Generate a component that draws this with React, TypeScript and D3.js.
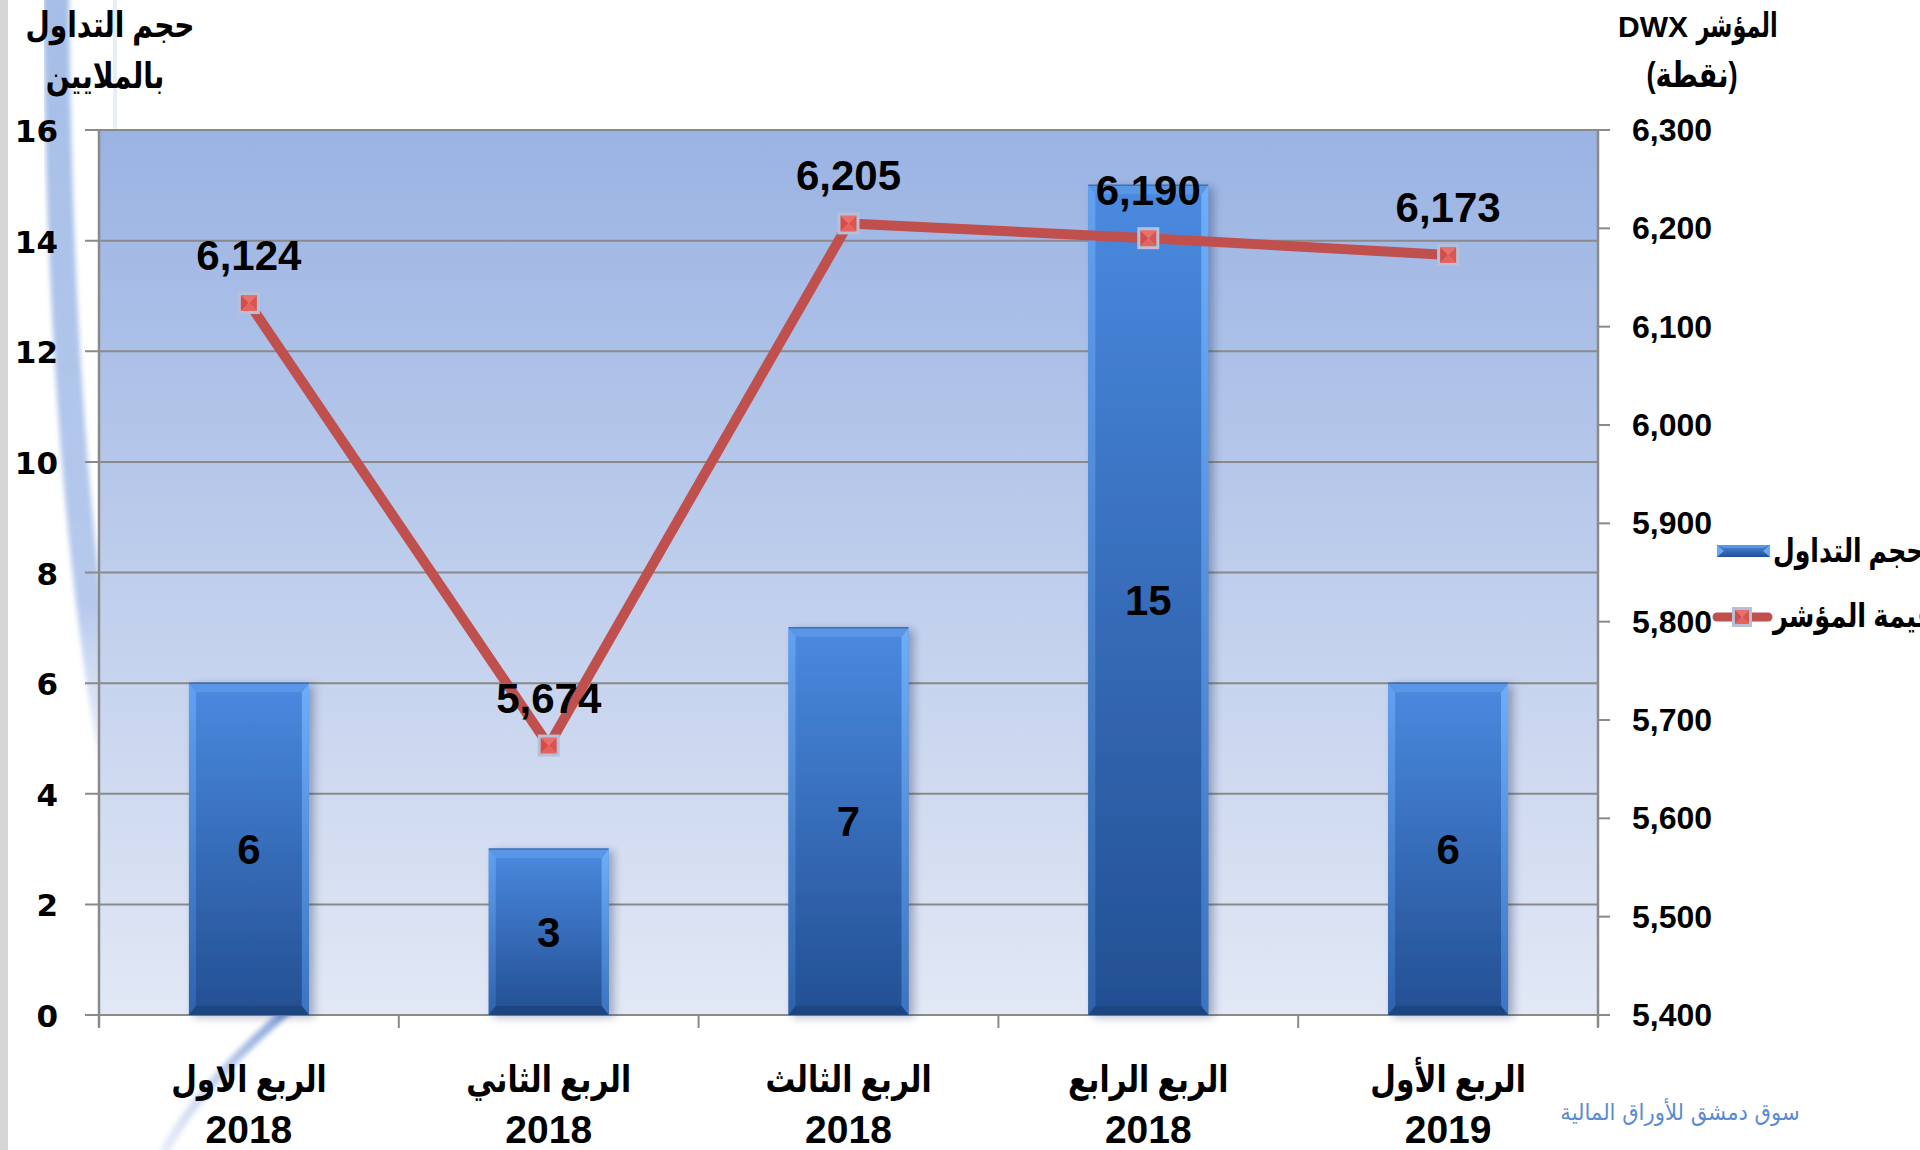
import React from "react";
import * as d3 from "d3";

const categories = ["الربع الاول", "الربع الثاني", "الربع الثالث", "الربع الرابع", "الربع الأول"];
const years = ["2018", "2018", "2018", "2018", "2019"];
const volume = [6, 3, 7, 15, 6];
const indexValues = [6124, 5674, 6205, 6190, 6173];
const leftTicks = [0, 2, 4, 6, 8, 10, 12, 14, 16];
const rightTicks = [5400, 5500, 5600, 5700, 5800, 5900, 6000, 6100, 6200, 6300];
const leftTitle = ["حجم التداول", "بالملايين"];
const rightTitle = ["المؤشر", "DWX", "(نقطة)"];
const legendLabels = ["حجم التداول", "قيمة المؤشر"];
const watermark = "سوق دمشق للأوراق المالية";

const W = 1920;
const H = 1150;
const plot = { left: 99, right: 1598, top: 130, bottom: 1015 };

const AR = "'Liberation Sans', 'DejaVu Sans', sans-serif";
const NUM = "'Liberation Sans', Arial, sans-serif";

function Marker({ cx, cy, s = 10 }: { cx: number; cy: number; s?: number }) {
  const x0 = cx - s, x1 = cx + s, y0 = cy - s, y1 = cy + s;
  return (
    <g>
      <rect x={x0 - 1} y={y0 - 1} width={2 * s + 2} height={2 * s + 2} fill="#b6c0d8" />
      <polygon points={`${x0 + 2},${y0 + 2} ${x1 - 2},${y0 + 2} ${cx},${cy}`} fill="#ea6f6a" />
      <polygon points={`${x0 + 2},${y1 - 2} ${x1 - 2},${y1 - 2} ${cx},${cy}`} fill="#e5625d" />
      <polygon points={`${x0 + 2},${y0 + 2} ${x0 + 2},${y1 - 2} ${cx},${cy}`} fill="#d64c48" />
      <polygon points={`${x1 - 2},${y0 + 2} ${x1 - 2},${y1 - 2} ${cx},${cy}`} fill="#d95550" />
    </g>
  );
}

function ArText({ x, y, sx = 0.82, size, anchor = "middle", children, weight = "bold", fill = "#000", family = AR }: any) {
  return (
    <g transform={`translate(${x},${y}) scale(${sx},1)`}>
      <text x={0} y={0} textAnchor={anchor} direction="rtl" fontFamily={family} fontWeight={weight} fontSize={size} fill={fill}>
        {children}
      </text>
    </g>
  );
}

export default function App() {
  const x = d3.scaleBand<string>().domain(categories).range([plot.left, plot.right]).paddingInner(0.6).paddingOuter(0.3);
  const yL = d3.scaleLinear().domain([0, 16]).range([plot.bottom, plot.top]);
  const yR = d3.scaleLinear().domain([5400, 6300]).range([plot.bottom, plot.top]);
  const step = x.step();
  const bw = x.bandwidth();
  const cxOf = (i: number) => (x(categories[i]) as number) + bw / 2;
  const line = d3.line<number>().x((_, i) => cxOf(i)).y((d) => yR(d));
  const boundaries = d3.range(categories.length + 1).map((i) => plot.left + i * step);
  const b = 9;

  return (
    <svg width={W} height={H} style={{ position: "absolute", left: 0, top: 0, display: "block", background: "#fff" }}>
      <defs>
        <linearGradient id="plotBg" x1="0" y1="0" x2="0" y2="1">
          <stop offset="0" stopColor="#9ab3e3" />
          <stop offset="1" stopColor="#e2e8f5" />
        </linearGradient>
        <linearGradient id="barBody" x1="0" y1="0" x2="0" y2="1">
          <stop offset="0" stopColor="#4a8ae0" />
          <stop offset="1" stopColor="#234f92" />
        </linearGradient>
        <linearGradient id="barLeft" x1="0" y1="0" x2="0" y2="1">
          <stop offset="0" stopColor="#62a2f2" />
          <stop offset="1" stopColor="#2d63ad" />
        </linearGradient>
        <linearGradient id="barRight" x1="0" y1="0" x2="0" y2="1">
          <stop offset="0" stopColor="#6eaef8" />
          <stop offset="1" stopColor="#3a74c2" />
        </linearGradient>
        <linearGradient id="swoosh" x1="0" y1="0" x2="0" y2="1">
          <stop offset="0" stopColor="#9bb6e4" stopOpacity="0.9" />
          <stop offset="0.8" stopColor="#a9c0ea" stopOpacity="0.85" />
          <stop offset="1" stopColor="#c8d6f0" stopOpacity="0.4" />
        </linearGradient>
        <linearGradient id="swoosh2" x1="1" y1="0" x2="0" y2="1">
          <stop offset="0" stopColor="#6f93d4" stopOpacity="0.95" />
          <stop offset="1" stopColor="#c7d4ee" stopOpacity="0.4" />
        </linearGradient>
        <filter id="blur3" x="-20%" y="-20%" width="140%" height="140%">
          <feGaussianBlur stdDeviation="2.5" />
        </filter>
        <filter id="barShadow" x="-20%" y="-10%" width="150%" height="120%">
          <feDropShadow dx="5" dy="2" stdDeviation="4" floodColor="#1a2c50" floodOpacity="0.35" />
        </filter>
      </defs>

      {/* background decorations */}
      <rect x={0} y={0} width={8} height={H} fill="#d6d6d6" />
      <path d="M 56 -10 C 58 250, 70 520, 112 760" fill="none" stroke="url(#swoosh)" strokeWidth={26} filter="url(#blur3)" />
      <path d="M 114 -10 L 116 130" fill="none" stroke="#e4eaf6" strokeWidth={8} filter="url(#blur3)" />
      <path d="M 300 1000 C 240 1050, 190 1100, 160 1160" fill="none" stroke="url(#swoosh2)" strokeWidth={9} filter="url(#blur3)" />

      {/* plot background */}
      <rect x={plot.left} y={plot.top} width={plot.right - plot.left} height={plot.bottom - plot.top} fill="url(#plotBg)" />

      {/* gridlines + left ticks */}
      {leftTicks.map((t) => (
        <line key={t} x1={plot.left - 14} x2={plot.right} y1={yL(t)} y2={yL(t)} stroke="#8a8a8a" strokeWidth={2} />
      ))}
      {/* right ticks */}
      {rightTicks.map((t) => (
        <line key={t} x1={plot.right} x2={plot.right + 12} y1={yR(t)} y2={yR(t)} stroke="#8a8a8a" strokeWidth={2} />
      ))}
      {/* axes */}
      <line x1={plot.left} x2={plot.left} y1={plot.top} y2={plot.bottom + 12} stroke="#8a8a8a" strokeWidth={2.5} />
      <line x1={plot.right} x2={plot.right} y1={plot.top} y2={plot.bottom + 12} stroke="#8a8a8a" strokeWidth={2.5} />
      {boundaries.map((bx, i) => (
        <line key={i} x1={bx} x2={bx} y1={plot.bottom} y2={plot.bottom + 13} stroke="#8a8a8a" strokeWidth={2} />
      ))}

      {/* bars */}
      {volume.map((v, i) => {
        const x0 = x(categories[i]) as number;
        const x1 = x0 + bw;
        const y0 = yL(v);
        const y1 = yL(0);
        return (
          <g key={i}>
            <rect x={x0} y={y0} width={bw} height={y1 - y0} fill="url(#barBody)" filter="url(#barShadow)" />
            <polygon points={`${x0},${y0} ${x0 + 7},${y0 + b} ${x0 + 7},${y1 - b} ${x0},${y1}`} fill="url(#barLeft)" />
            <polygon points={`${x1},${y0} ${x1 - 7},${y0 + b} ${x1 - 7},${y1 - b} ${x1},${y1}`} fill="url(#barRight)" />
            <polygon points={`${x0},${y0} ${x1},${y0} ${x1 - 7},${y0 + b} ${x0 + 7},${y0 + b}`} fill="#5a96e6" />
            <polygon points={`${x0},${y1} ${x1},${y1} ${x1 - 7},${y1 - b} ${x0 + 7},${y1 - b}`} fill="#1d4680" />
            <line x1={x0} x2={x1} y1={y0} y2={y0} stroke="#3b6fb8" strokeWidth={1.5} />
          </g>
        );
      })}

      {/* bar labels */}
      {volume.map((v, i) => (
        <text key={i} x={cxOf(i)} y={(yL(v) + yL(0)) / 2 + 15} textAnchor="middle" fontFamily={NUM} fontWeight="bold" fontSize={42} fill="#000">
          {v}
        </text>
      ))}

      {/* index line */}
      <path d={line(indexValues) as string} fill="none" stroke="#c0504d" strokeWidth={10} strokeLinejoin="miter" />
      {indexValues.map((v, i) => (
        <Marker key={i} cx={cxOf(i)} cy={yR(v)} />
      ))}
      {indexValues.map((v, i) => (
        <text key={i} x={cxOf(i)} y={yR(v) - 33} textAnchor="middle" fontFamily={NUM} fontWeight="bold" fontSize={42} fill="#000">
          {d3.format(",")(v)}
        </text>
      ))}

      {/* left tick labels */}
      {leftTicks.map((t) => (
        <text key={t} x={58} y={yL(t) + 12} textAnchor="end" fontFamily="'DejaVu Sans', Verdana, sans-serif" fontWeight="bold" fontSize={31} fill="#000">
          {t}
        </text>
      ))}
      {/* right tick labels */}
      {rightTicks.map((t) => (
        <text key={t} x={1632} y={yR(t) + 11} textAnchor="start" fontFamily={NUM} fontWeight="bold" fontSize={32} fill="#000">
          {d3.format(",")(t)}
        </text>
      ))}

      {/* category labels */}
      {categories.map((c, i) => (
        <g key={i}>
          <ArText x={cxOf(i)} y={1092} size={37} sx={0.8}>
            {c}
          </ArText>
          <text x={cxOf(i)} y={1143} textAnchor="middle" fontFamily={NUM} fontWeight="bold" fontSize={39} fill="#000">
            {years[i]}
          </text>
        </g>
      ))}

      {/* axis titles */}
      <ArText x={110} y={37} size={35} sx={0.8}>{leftTitle[0]}</ArText>
      <ArText x={105} y={88} size={35} sx={0.8}>{leftTitle[1]}</ArText>
      <ArText x={1737} y={37} size={34} sx={0.66}>{rightTitle[0]}</ArText>
      <text x={1688} y={37} textAnchor="end" fontFamily={NUM} fontWeight="bold" fontSize={30} fill="#000">{rightTitle[1]}</text>
      <ArText x={1692} y={87} size={35} sx={0.78}>{rightTitle[2]}</ArText>

      {/* legend */}
      <g>
        <rect x={1717} y={545} width={53} height={12} fill="url(#barBody)" />
        <polygon points="1717,545 1724,551 1717,557" fill="#6aa8f4" />
        <polygon points="1770,545 1763,551 1770,557" fill="#6aa8f4" />
        <polygon points="1717,545 1770,545 1763,548 1724,548" fill="#5a96e6" />
        <g transform="translate(1773,562) scale(0.76,1)">
          <text x={0} y={0} textAnchor="start" fontFamily={AR} fontWeight="bold" fontSize={33} fill="#000">
            {legendLabels[0]}
          </text>
        </g>
        <line x1={1717} x2={1768} y1={617} y2={617} stroke="#c0504d" strokeWidth={9} strokeLinecap="round" />
        <Marker cx={1742} cy={617} s={9} />
        <g transform="translate(1773,627) scale(0.78,1)">
          <text x={0} y={0} textAnchor="start" fontFamily={AR} fontWeight="bold" fontSize={33} fill="#000">
            {legendLabels[1]}
          </text>
        </g>
      </g>

      {/* watermark */}
      <ArText x={1680} y={1120} size={23} sx={0.92} weight="normal" fill="#5b8bd2" family="'DejaVu Sans', serif">
        {watermark}
      </ArText>
    </svg>
  );
}
